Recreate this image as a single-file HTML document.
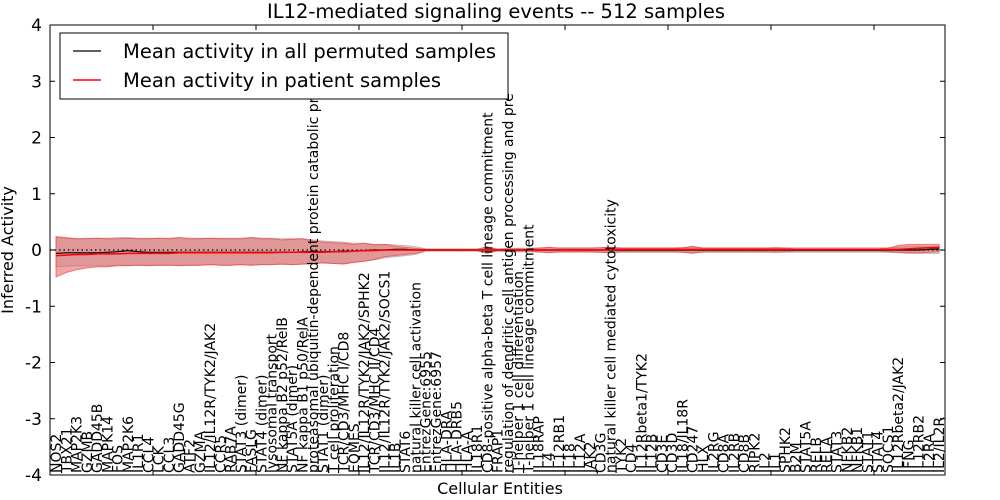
<!DOCTYPE html>
<html><head><meta charset="utf-8"><style>
html,body{margin:0;padding:0;background:#fff;}
svg{display:block;font-family:"DejaVu Sans","Liberation Sans",sans-serif;}
</style></head><body>
<svg id="chart" width="1000" height="500" xmlns="http://www.w3.org/2000/svg">
<text x="496" y="18" text-anchor="middle" font-size="19.5">IL12-mediated signaling events -- 512 samples</text>
<g id="plot"></g>
<text x="500" y="494" text-anchor="middle" font-size="16">Cellular Entities</text>
<text transform="translate(13,250) rotate(-90)" text-anchor="middle" font-size="16">Inferred Activity</text>
</svg>
<script>
const labels=["NOS2","TBX21","MAP2K3","GZMB","GADD45B","MAPK14","FOS","MAP2K6","IL1R1","CCL4","LCK","CCL3","GADD45G","ATF2","GZMA","IL12/IL12R/TYK2/JAK2","CCR5","RAB7A","STAT3 (dimer)","FASLG","STAT4 (dimer)","lysosomal transport","NF kappa B2 p52/RelB","STAT5A (dimer)","NF kappa B1 p50/RelA","proteasomal ubiquitin-dependent protein catabolic pr","STAT1 (dimer)","T cell proliferation","TCR/CD3/MHC I/CD8","EOMES","IL12/IL12R/TYK2/JAK2/SPHK2","TCR/CD3/MHC II/CD4","IL12/IL12R/TYK2/JAK2/SOCS1","IL1B","STAT6","natural killer cell activation","EntrezGene:6955","EntrezGene:6957","HLA-DRA","HLA-DRB5","HLA-A","IL18R1","CD8-positive alpha-beta T cell lineage commitment","FRAP1","regulation of dendritic cell antigen processing and pre","T-helper 1 cell differentiation","T-helper 1 cell lineage commitment","IL18RAP","IL4","IL12RB1","IL18","IL12A","JAK2","CD3G","natural killer cell mediated cytotoxicity","TYK2","CD4","IL12Rbeta1/TYK2","IL12B","CD3E","CD3D","IL18/IL18R","CD247","HLX","IL2RG","CD8A","IL2RB","CD8B","RIPK2","IL2","IL1","SPHK2","B2M","STAT5A","RELB","RELA","STAT3","NFKB2","NFKB1","STAT1","STAT4","SOCS1","IL12Rbeta2/JAK2","IFNG","IL12RB2","IL2RA","IL2/IL2R"];
const patientMean=[-0.10,-0.09,-0.08,-0.08,-0.07,-0.07,-0.07,-0.06,-0.06,-0.06,-0.06,-0.06,-0.05,-0.05,-0.05,-0.05,-0.05,-0.05,-0.05,-0.05,-0.05,-0.05,-0.04,-0.04,-0.04,-0.04,-0.04,-0.03,-0.03,-0.02,-0.01,-0.01,0,0,0,0,0,0,0,0,0,0,0,0,0,0,0,0,0,0,0,0,0,0,0.01,0.01,0.01,0.01,0.01,0.01,0.01,0.01,0.01,0.01,0.01,0.01,0.01,0.01,0.01,0.01,0.01,0.01,0.01,0.01,0.01,0.01,0.01,0.01,0.01,0.01,0.01,0.01,0.01,0.02,0.03,0.04,0.05];
const permMean=[-0.06,-0.05,-0.05,-0.05,-0.05,-0.04,-0.03,-0.01,-0.03,-0.04,-0.04,-0.04,-0.04,-0.04,-0.04,-0.04,-0.04,-0.04,-0.04,-0.04,-0.04,-0.04,-0.04,-0.04,-0.03,-0.03,-0.03,-0.03,-0.02,-0.02,-0.01,0,0,0.01,0.01,0,0,0,0,0,0,0,0,0,0,0,0,0,0,0,0,0,0,0,0,0,0,0,0,0,0,0,0,0,0,0,0,0,0,0,0,0,0,0,0,0,0,0,0,0,0,0,0,0,0,0.01,0.02];
const patientHi=[0.24,0.22,0.20,0.20,0.21,0.20,0.20,0.21,0.20,0.20,0.21,0.20,0.22,0.20,0.20,0.21,0.20,0.20,0.20,0.22,0.20,0.20,0.18,0.19,0.20,0.16,0.14,0.13,0.12,0.10,0.12,0.09,0.10,0.07,0.05,0.03,0.01,0.01,0.01,0.01,0.01,0.01,0.06,0.01,0.02,0.02,0.02,0.03,0.05,0.03,0.03,0.03,0.03,0.04,0.05,0.03,0.03,0.03,0.03,0.03,0.03,0.04,0.07,0.03,0.03,0.03,0.03,0.03,0.03,0.03,0.04,0.03,0.02,0.02,0.02,0.02,0.02,0.02,0.02,0.02,0.02,0.03,0.08,0.10,0.10,0.10,0.10];
const patientLo=[-0.48,-0.40,-0.35,-0.32,-0.30,-0.30,-0.28,-0.28,-0.27,-0.28,-0.27,-0.27,-0.28,-0.27,-0.27,-0.26,-0.27,-0.27,-0.26,-0.27,-0.26,-0.26,-0.25,-0.26,-0.25,-0.24,-0.23,-0.24,-0.25,-0.22,-0.20,-0.17,-0.12,-0.10,-0.08,-0.06,-0.01,-0.01,-0.01,-0.01,-0.01,-0.01,-0.06,-0.01,-0.02,-0.02,-0.02,-0.03,-0.05,-0.03,-0.03,-0.03,-0.03,-0.04,-0.05,-0.03,-0.03,-0.03,-0.03,-0.03,-0.03,-0.04,-0.06,-0.03,-0.03,-0.03,-0.03,-0.03,-0.03,-0.03,-0.04,-0.03,-0.02,-0.02,-0.02,-0.02,-0.02,-0.02,-0.02,-0.02,-0.02,-0.03,-0.04,-0.05,-0.05,-0.04,-0.03];
const permHi=[0.22,0.21,0.20,0.21,0.21,0.21,0.22,0.22,0.21,0.21,0.21,0.21,0.22,0.21,0.21,0.21,0.21,0.21,0.21,0.22,0.21,0.21,0.20,0.20,0.20,0.18,0.16,0.15,0.14,0.12,0.12,0.10,0.10,0.09,0.08,0.06,0.02,0.02,0.02,0.02,0.02,0.02,0.04,0.02,0.03,0.03,0.03,0.04,0.04,0.04,0.04,0.04,0.04,0.04,0.05,0.04,0.04,0.04,0.04,0.04,0.04,0.04,0.05,0.04,0.04,0.04,0.04,0.04,0.04,0.04,0.04,0.04,0.04,0.04,0.04,0.04,0.04,0.04,0.04,0.04,0.04,0.04,0.05,0.06,0.06,0.06,0.06];
const permLo=[-0.30,-0.29,-0.28,-0.28,-0.28,-0.28,-0.27,-0.27,-0.27,-0.27,-0.27,-0.27,-0.27,-0.27,-0.27,-0.26,-0.27,-0.27,-0.26,-0.27,-0.26,-0.26,-0.25,-0.26,-0.25,-0.24,-0.23,-0.24,-0.24,-0.22,-0.20,-0.17,-0.14,-0.12,-0.10,-0.08,-0.02,-0.02,-0.02,-0.02,-0.02,-0.02,-0.04,-0.02,-0.03,-0.03,-0.03,-0.04,-0.04,-0.04,-0.04,-0.04,-0.04,-0.04,-0.05,-0.04,-0.04,-0.04,-0.04,-0.04,-0.04,-0.04,-0.05,-0.04,-0.04,-0.04,-0.04,-0.04,-0.04,-0.04,-0.04,-0.04,-0.04,-0.04,-0.04,-0.04,-0.04,-0.04,-0.04,-0.04,-0.04,-0.04,-0.05,-0.06,-0.06,-0.06,-0.06];
const yTicks=[-4,-3,-2,-1,0,1,2,3,4];
const xTicks=[10,20,30,40,50,60,70,80];

const NS="http://www.w3.org/2000/svg";
const L=50,R=945,T=25,B=475;
const x=v=>L+6+v*10.27;
const xt=v=>L+v*10.3;
const y=v=>250-v*56.25;
const g=document.getElementById('plot');
function mk(tag,attrs,parent){const e=document.createElementNS(NS,tag);for(const k in attrs)e.setAttribute(k,attrs[k]);(parent||g).appendChild(e);return e;}
function band(lo,hi){let d='';hi.forEach((v,i)=>{d+=(i?'L':'M')+x(i).toFixed(1)+','+y(v).toFixed(1);});for(let i=lo.length-1;i>=0;i--)d+='L'+x(i).toFixed(1)+','+y(lo[i]).toFixed(1);return d+'Z';}
function line(arr){return arr.map((v,i)=>(i?'L':'M')+x(i).toFixed(1)+','+y(v).toFixed(1)).join('');}

const pb=mk('path',{d:band(permLo,permHi),fill:'#c8c8c8','fill-opacity':'0.6',stroke:'#bbbbbb','stroke-width':'1'});


const rb=mk('path',{d:band(patientLo,patientHi),fill:'#e05050','fill-opacity':'0.5',stroke:'#ff3030','stroke-opacity':'0.6','stroke-width':'1'});


const zl=mk('line',{x1:L,x2:R,y1:y(0),y2:y(0),stroke:'#000','stroke-width':'1.2','stroke-dasharray':'1.5,3'});


const pl=mk('path',{d:line(permMean),fill:'none',stroke:'#000','stroke-width':'1.2'});


const rl=mk('path',{d:line(patientMean),fill:'none',stroke:'#ff0000','stroke-width':'1.5'});



labels.forEach((s,i)=>{
  const t=mk('text',{transform:`translate(${(x(i)+5).toFixed(1)},473) rotate(-90)`,'font-size':'14'});
  t.textContent=s;
  
  
});

const frame=mk('rect',{x:L,y:T,width:R-L,height:B-T,fill:'none',stroke:'#000','stroke-width':'1'});


yTicks.forEach(v=>{
  mk('line',{x1:L,x2:L+5,y1:y(v),y2:y(v),stroke:'#000'});
  mk('line',{x1:R-5,x2:R,y1:y(v),y2:y(v),stroke:'#000'});
  const t=mk('text',{x:L-8,y:y(v)+6,'text-anchor':'end','font-size':'17'});
  t.textContent=v;
  
  
});
xTicks.forEach(v=>{
  mk('line',{x1:xt(v),x2:xt(v),y1:T,y2:T+5,stroke:'#000'});
  mk('line',{x1:xt(v),x2:xt(v),y1:B-5,y2:B,stroke:'#000'});
});

const lg=mk('g',{});


mk('rect',{x:60,y:33,width:448,height:66,fill:'#fff',stroke:'#000','stroke-width':'1'},lg);
const e1=mk('g',{},lg);


mk('line',{x1:73,x2:101,y1:51,y2:51,stroke:'#000','stroke-width':'1.2'},e1);
const t1=mk('text',{x:123,y:58,'font-size':'19.5'},e1);t1.textContent='Mean activity in all permuted samples';
const e2=mk('g',{},lg);


mk('line',{x1:73,x2:101,y1:80,y2:80,stroke:'#ff0000','stroke-width':'1.5'},e2);
const t2=mk('text',{x:123,y:87,'font-size':'19.5'},e2);t2.textContent='Mean activity in patient samples';
</script>
</body></html>
